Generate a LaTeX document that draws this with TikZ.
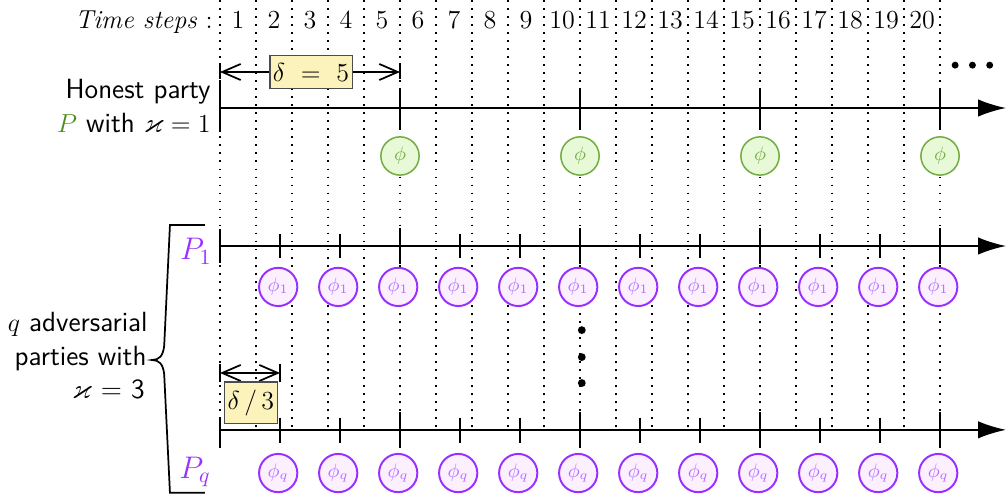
\documentclass[tikz,border=0pt]{standalone}
\usepackage{amsmath}
\usepackage{amssymb}
\usepackage{tikz}
\usepackage{xcolor}
\usetikzlibrary{arrows.meta}

\definecolor{hgreen}{HTML}{74AC45}
\definecolor{hgreenfill}{HTML}{E8F9D8}
\definecolor{pgreen}{HTML}{4C8C1A}
\definecolor{advpurple}{HTML}{9A30FF}
\definecolor{advtext}{HTML}{B270FF}
\definecolor{advfill}{HTML}{FCF0FF}
\definecolor{boxyellow}{HTML}{FCF2BC}

\tikzset{
  honestblock/.style={circle, draw=hgreen, fill=hgreenfill, line width=0.7pt,
    minimum size=0.62cm, inner sep=0pt, text=hgreen, font=\small},
  advblock/.style={circle, draw=advpurple, fill=advfill, line width=0.9pt,
    minimum size=0.62cm, inner sep=0pt, text=advtext, font=\small},
  lenbox/.style={draw=black!70, fill=boxyellow, line width=0.8pt, inner xsep=1.5pt, inner ysep=3.5pt, font=\large},
  timeaxis/.style={thick, -{Latex[length=4.5mm,width=2.8mm]}},
  slotline/.style={line width=0.8pt, dash pattern=on 0.8pt off 2.9pt},
  lenarrow/.style={thick, {Straight Barb[length=3mm,width=2.6mm]}-{Straight Barb[length=3mm,width=2.6mm]}},
  partylabel/.style={anchor=base east, inner sep=0pt, font=\sffamily\fontsize{12.8pt}{15pt}\selectfont},
}

\begin{document}
\begin{tikzpicture}[x=0.5834cm, y=0.5834cm]
        \useasboundingbox (-6.111,3.0) rectangle (21.833,-10.833);

        % Time slots
        \foreach \x in {0,...,20}
            \draw[slotline] (\x,3.0) -- (\x,-8.94);
        \node[anchor=base east, inner sep=0pt, font=\large] (ts) at (-0.19,2.22) {\textit{Time steps} :};
        \foreach \n in {1,...,20}
            \node[anchor=base, inner sep=0pt, font=\large] (n\n) at (\n-0.5,2.22) {\n};

        % Honest party
        \coordinate (hs) at (0,0);
        \coordinate (he) at (21.833,0);
        \draw[timeaxis] (hs) -- (he);
        \draw[thick] (0,0.72) -- (0,-0.67);
        \foreach \x in {5,10,15,20}
            \draw[thick] (\x,0.56) -- (\x,-0.56);
        \foreach \j in {1,...,4}
            \node[honestblock] (phi\j) at (5*\j,-1.333) {$\phi$};
        \node[partylabel] (hon1) at (-0.25,0.25) {Honest party};
        \node[partylabel] (hon2) at (-0.25,-0.67) {\textcolor{pgreen}{$P$} with $\varkappa = 1$};

        % delta = 5
        \coordinate (d5s) at (0,1.0);
        \coordinate (d5e) at (5,1.0);
        \draw[thick] (0,1.25) -- (0,0.8);
        \draw[thick] (5,1.25) -- (5,0.8);
        \draw[lenarrow] (d5s) -- (d5e);
        \node[lenbox] (d5) at (2.53,1.0) {$\delta\ =\ 5$};
        \foreach \x in {20.42,20.9,21.38}
            \fill (\x,1.19) circle (1.6pt);

        % Adversarial party P_1
        \coordinate (as) at (0,-3.833);
        \coordinate (ae) at (21.833,-3.833);
        \draw[timeaxis] (as) -- (ae);
        \draw[thick] (0,-3.36) -- (0,-4.3);
        \foreach \k in {1,...,12}{
            \pgfmathtruncatemacro{\tall}{mod(\k,3)==0 ? 1 : 0}
            \ifnum\tall=1
                \draw[thick] (5*\k/3,-3.33) -- (5*\k/3,-4.33);
            \else
                \draw[thick] (5*\k/3,-3.5) -- (5*\k/3,-4.17);
            \fi
            \node[advblock] (a\k) at (5*\k/3-0.05,-4.97) {$\phi_1$};
        }
        \node[anchor=base east, inner sep=0pt, font=\Large, text=advpurple] (P1) at (-0.22,-4.22) {$P_1$};

        % dots between parties
        \foreach \y in {-6.17,-6.92,-7.64}
            \fill (10.05,\y) circle (1.8pt);

        % delta / 3
        \coordinate (d3s) at (0,-7.36);
        \coordinate (d3e) at (1.667,-7.36);
        \draw[thick] (0,-7.1) -- (0,-7.62);
        \draw[thick] (1.667,-7.1) -- (1.667,-7.62);
        \draw[lenarrow] (d3s) -- (d3e);
        \node[lenbox] (d3) at (0.86,-8.19) {$\delta\,/\,3$};

        % Adversarial party P_q
        \coordinate (bs) at (0,-8.94);
        \coordinate (be) at (21.833,-8.94);
        \draw[timeaxis] (bs) -- (be);
        \draw[thick] (0,-8.64) -- (0,-9.44);
        \foreach \k in {1,...,12}{
            \pgfmathtruncatemacro{\tall}{mod(\k,3)==0 ? 1 : 0}
            \ifnum\tall=1
                \draw[thick] (5*\k/3,-8.44) -- (5*\k/3,-9.44);
            \else
                \draw[thick] (5*\k/3,-8.6) -- (5*\k/3,-9.3);
            \fi
            \node[advblock] (b\k) at (5*\k/3-0.05,-10.14) {$\phi_q$};
        }
        \node[anchor=base east, inner sep=0pt, font=\Large, text=advpurple] (Pq) at (-0.25,-10.28) {$P_q$};

        % Brace and adversary label
        \draw[thick] (-0.42,-3.25) -- (-1.39,-3.25) -- (-1.55,-6.6)
            .. controls (-1.58,-6.9) and (-1.7,-7) .. (-1.89,-7)
            .. controls (-1.7,-7) and (-1.58,-7.1) .. (-1.55,-7.4)
            -- (-1.39,-10.69) -- (-0.42,-10.69);
        \node[partylabel] (adv1) at (-2.0,-6.22) {$q$ adversarial};
        \node[partylabel] (adv2) at (-2.03,-7.14) {parties with};
        \node[partylabel] (adv3) at (-2.08,-8.06) {$\varkappa$ = 3};

    \end{tikzpicture}
\end{document}
